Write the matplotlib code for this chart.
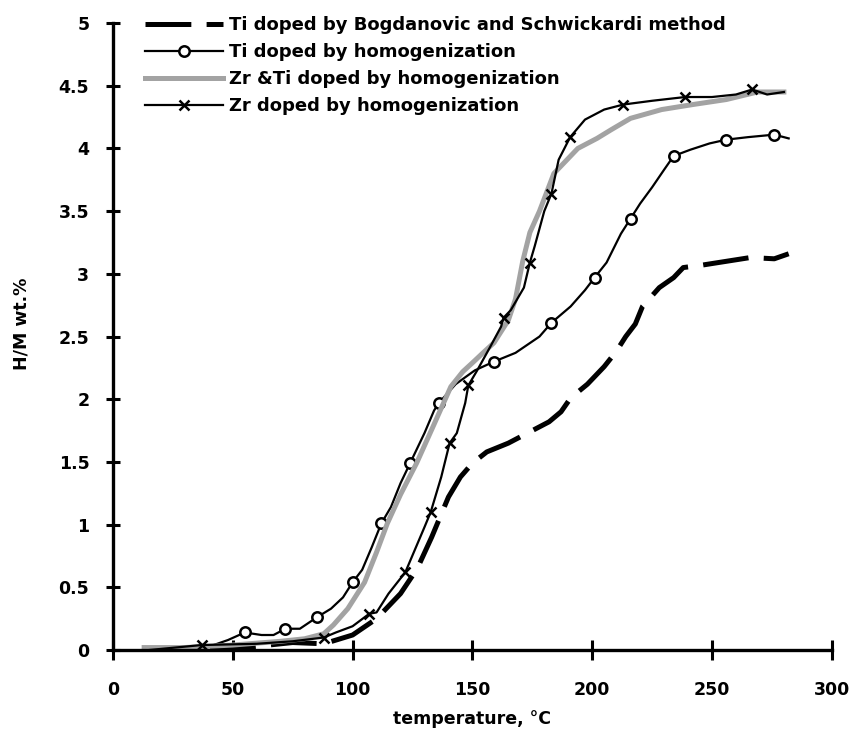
import numpy as np
import matplotlib
matplotlib.use("Agg")
import matplotlib.pyplot as plt
from matplotlib.ticker import MultipleLocator, FormatStrFormatter

plt.rcParams['font.family'] = ['DejaVu Sans']
plt.rcParams['font.weight'] = 'bold'
plt.rcParams['lines.scale_dashes'] = False

# Ti doped by Bogdanovic and Schwickardi method (thick dashed)
bog_t = [15, 35, 50, 75, 88, 100, 110, 120, 127, 133, 140, 145, 150, 156, 165, 174,
         182, 187, 191, 198, 205, 210, 214, 218, 221, 228, 234, 238, 246, 256, 266, 276, 282]
bog_h = [0.0, 0.0, 0.01, 0.06, 0.05, 0.12, 0.25, 0.45, 0.65, 0.9, 1.22, 1.38, 1.49, 1.58, 1.65, 1.74,
         1.82, 1.9, 2.01, 2.12, 2.26, 2.38, 2.5, 2.6, 2.74, 2.89, 2.97, 3.05, 3.07, 3.10, 3.13, 3.12, 3.16]

# Ti doped by homogenization (circles)
ti_t = [15, 30, 42, 48, 55, 62, 67, 72, 78, 85, 91, 96, 100, 104, 108, 112, 116, 120, 124, 130,
        134, 136, 143, 151, 159, 168, 178, 183, 191, 197, 201, 206, 212, 216, 220, 225, 230, 234,
        241, 249, 256, 265, 276, 282]
ti_h = [0.0, 0.01, 0.04, 0.08, 0.14, 0.12, 0.12, 0.17, 0.17, 0.26, 0.33, 0.42, 0.54, 0.64, 0.82,
        1.01, 1.14, 1.33, 1.49, 1.73, 1.91, 1.97, 2.12, 2.23, 2.30, 2.37, 2.50, 2.61, 2.74, 2.87,
        2.97, 3.09, 3.32, 3.44, 3.56, 3.69, 3.83, 3.94, 3.99, 4.04, 4.07, 4.09, 4.11, 4.08]
ti_marks = [4, 7, 9, 12, 15, 18, 21, 24, 27, 30, 33, 37, 40, 42]

# Zr & Ti doped by homogenization (grey)
zrti_t = [13, 30, 50, 70, 80, 88, 92, 98, 105, 110, 114.5, 120, 126.7, 134, 141, 146, 150, 155,
          159, 165, 168, 171, 174, 178, 184, 189, 194, 202, 208, 216, 229, 242, 256, 269, 280]
zrti_h = [0.02, 0.02, 0.04, 0.07, 0.09, 0.13, 0.2, 0.33, 0.54, 0.78, 1.01, 1.24, 1.49, 1.8, 2.1,
          2.22, 2.29, 2.38, 2.45, 2.63, 2.8, 3.1, 3.33, 3.5, 3.8, 3.9, 4.0, 4.08, 4.15, 4.24, 4.31,
          4.35, 4.39, 4.45, 4.45]

# Zr doped by homogenization (x markers)
zr_t = [15, 37, 60, 75, 88, 93, 100, 107, 110, 115, 122, 126, 130, 132.6, 137, 140.5, 143.5, 147,
        148.3, 152, 157.5, 162, 163, 166, 171.5, 174, 176, 180, 183, 186, 190.8, 197, 205, 213,
        225, 238.8, 250, 260, 266.8, 273, 280]
zr_h = [0.0, 0.04, 0.05, 0.07, 0.10, 0.14, 0.19, 0.29, 0.3, 0.45, 0.62, 0.8, 0.98, 1.1, 1.38,
        1.65, 1.73, 1.97, 2.11, 2.23, 2.42, 2.58, 2.65, 2.71, 2.89, 3.09, 3.22, 3.5, 3.64, 3.91,
        4.09, 4.23, 4.31, 4.35, 4.38, 4.41, 4.41, 4.43, 4.47, 4.43, 4.45]
zr_marks = [1, 4, 7, 10, 13, 15, 18, 22, 25, 28, 30, 33, 35, 38]

labels = ["Ti doped by Bogdanovic and Schwickardi method",
          "Ti doped by homogenization",
          "Zr &Ti doped by homogenization",
          "Zr doped by homogenization"]

fig = plt.figure(figsize=(8.54, 7.55), dpi=100)
ax = fig.add_axes([0.1323, 0.139, 0.8417, 0.8305])

ax.plot(bog_t, bog_h, color='black', lw=3.6, dashes=(33, 11), solid_capstyle='butt',
        label=labels[0])
ax.plot(ti_t, ti_h, color='black', lw=1.6, marker='o', markevery=ti_marks, ms=7.5,
        mfc='white', mec='black', mew=1.8, label=labels[1])
ax.plot(zrti_t, zrti_h, color='#a3a3a3', lw=3.6, label=labels[2])
ax.plot(zr_t, zr_h, color='black', lw=1.6, marker='x', markevery=zr_marks, ms=7,
        mec='black', mew=1.8, label=labels[3])

ax.set_xlim(0, 300)
ax.set_ylim(0, 5)
ax.xaxis.set_major_locator(MultipleLocator(50))
ax.yaxis.set_major_locator(MultipleLocator(0.5))
ax.yaxis.set_major_formatter(FormatStrFormatter('%g'))

for s in ['top', 'right']:
    ax.spines[s].set_visible(False)
for s in ['left', 'bottom']:
    ax.spines[s].set_linewidth(2.4)

ax.tick_params(axis='x', direction='inout', length=14, width=2.2, pad=15, labelsize=12.5)
ax.tick_params(axis='y', direction='inout', length=10, width=2.2, pad=12, labelsize=12.5)
for lab in ax.get_xticklabels() + ax.get_yticklabels():
    lab.set_fontweight('bold')

ax.set_xlabel('temperature, °C', fontsize=12.5, fontweight='bold')
ax.xaxis.set_label_coords(0.5, -0.095)
ax.set_ylabel('H/M wt.%', fontsize=12.5, fontweight='bold')
ax.yaxis.set_label_coords(-0.115, 0.52)

fig.legend(loc='upper left', bbox_to_anchor=(145 / 854, 1 - 16 / 755), frameon=False,
           borderpad=0, borderaxespad=0, handlelength=4.3, handletextpad=0.35,
           labelspacing=0.5, prop={'size': 13, 'weight': 'bold'})

fig.savefig('out.png', dpi=100)
